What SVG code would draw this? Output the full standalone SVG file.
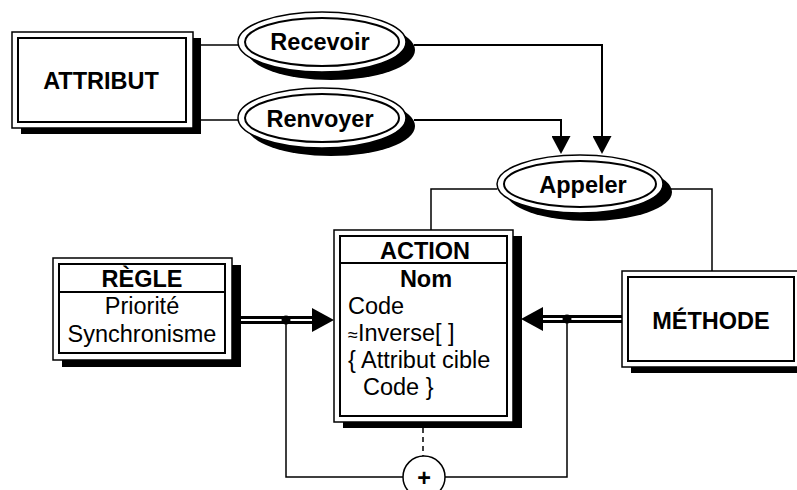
<svg xmlns="http://www.w3.org/2000/svg" width="797" height="490" viewBox="0 0 797 490">
  <style>
    text { font-family: "Liberation Sans", Arial, sans-serif; font-size: 23.5px; fill: #000; }
    .b { font-weight: bold; }
    .c { text-anchor: middle; }
    .frame { fill: #fff; stroke: #000; stroke-width: 1.5; }
    .inner { fill: none; stroke: #000; stroke-width: 2; }
    .shadow { fill: #000; stroke: none; }
    .link { fill: none; stroke: #000; stroke-width: 1.5; }
    .flow { fill: none; stroke: #000; stroke-width: 2; }
    .dbl { fill: none; stroke: #000; stroke-width: 8; }
    .dblgap { fill: none; stroke: #fff; stroke-width: 2; }
  </style>
  <defs>
    <marker id="tri" markerUnits="userSpaceOnUse" viewBox="0 0 18 19" refX="0" refY="9.5" markerWidth="18" markerHeight="19" orient="auto">
      <path d="M0,0 L18,9.5 L0,19 Z" fill="#000"/>
    </marker>
    <marker id="bigtri" markerUnits="userSpaceOnUse" viewBox="0 0 22 24" refX="0" refY="12" markerWidth="22" markerHeight="24" orient="auto">
      <path d="M0,0 L22,12 L0,24 Z" fill="#000"/>
    </marker>
  </defs>

  <!-- connectors -->
  <g id="connectors">
    <path class="link" d="M201,45 H238"/>
    <path class="link" d="M201,120 H238"/>
    <path class="flow" d="M414,45 H602 V136" marker-end="url(#tri)"/>
    <path class="flow" d="M414,120 H561 V136" marker-end="url(#tri)"/>
    <path class="link" d="M497,189 H431 V230"/>
    <path class="link" d="M671,189 H712 V271"/>
    <!-- double-line arrows into ACTION -->
    <path class="dbl" d="M241,320 H312" marker-end="url(#bigtri)"/>
    <path class="dblgap" d="M241,320 H312"/>
    <path class="dbl" d="M622,319 H543" marker-end="url(#bigtri)"/>
    <path class="dblgap" d="M622,319 H543"/>
    <!-- loop through the + junction -->
    <path class="link" d="M286,320 V477 H403"/>
    <path class="link" d="M445,477 H567 V319"/>
    <circle cx="286" cy="320" r="4.5" fill="#000"/>
    <circle cx="567" cy="319" r="4.5" fill="#000"/>
    <path class="link" d="M423,428 V456" stroke-dasharray="5,4"/>
  </g>

  <g id="attribut">
    <rect class="shadow" x="21" y="38" width="180" height="96"/>
    <rect class="frame" x="12" y="32" width="181" height="96"/>
    <rect class="inner" x="18" y="38" width="168" height="84"/>
    <text class="b c" x="101" y="89">ATTRIBUT</text>
  </g>

  <g id="recevoir">
    <ellipse class="shadow" cx="331" cy="50" rx="84" ry="30"/>
    <ellipse class="frame" cx="322" cy="42" rx="84" ry="30"/>
    <ellipse class="inner" cx="322" cy="42" rx="77" ry="24"/>
    <text class="b c" x="320" y="50">Recevoir</text>
  </g>

  <g id="renvoyer">
    <ellipse class="shadow" cx="331" cy="126" rx="84" ry="30"/>
    <ellipse class="frame" cx="322" cy="118" rx="84" ry="30"/>
    <ellipse class="inner" cx="322" cy="118" rx="77" ry="24"/>
    <text class="b c" x="320" y="127">Renvoyer</text>
  </g>

  <g id="appeler">
    <ellipse class="shadow" cx="589" cy="192" rx="83" ry="29"/>
    <ellipse class="frame" cx="580" cy="184" rx="83" ry="29"/>
    <ellipse class="inner" cx="580" cy="184" rx="76" ry="23"/>
    <text class="b c" x="583" y="193">Appeler</text>
  </g>

  <g id="regle">
    <rect class="shadow" x="62" y="265" width="179" height="102"/>
    <rect class="frame" x="53" y="258" width="179" height="102"/>
    <rect class="inner" x="59" y="264" width="166" height="89"/>
    <line class="inner" x1="59" y1="292" x2="225" y2="292"/>
    <text class="b c" x="142" y="287">RÈGLE</text>
    <text class="c" x="142" y="314">Priorité</text>
    <text class="c" x="142" y="342">Synchronisme</text>
  </g>

  <g id="action">
    <rect class="shadow" x="343" y="236" width="179" height="192"/>
    <rect class="frame" x="334" y="230" width="179" height="192"/>
    <rect class="inner" x="340" y="236" width="167" height="180"/>
    <line class="inner" x1="340" y1="263" x2="507" y2="263"/>
    <text class="b c" x="425" y="259">ACTION</text>
    <text class="b c" x="426" y="287">Nom</text>
    <text x="348" y="314">Code</text>
    <text x="348" y="341"><tspan font-size="18">≈</tspan>Inverse[ ]</text>
    <text x="348" y="368">{ Attribut cible</text>
    <text x="363" y="395">Code }</text>
  </g>

  <g id="methode">
    <rect class="shadow" x="631" y="277" width="178" height="96"/>
    <rect class="frame" x="622" y="271" width="178" height="96"/>
    <rect class="inner" x="628" y="277" width="166" height="84"/>
    <text class="b c" x="711" y="329">MÉTHODE</text>
  </g>

  <g id="union">
    <circle class="frame" cx="424" cy="477" r="21"/>
    <text class="b c" x="424" y="486">+</text>
  </g>
</svg>
